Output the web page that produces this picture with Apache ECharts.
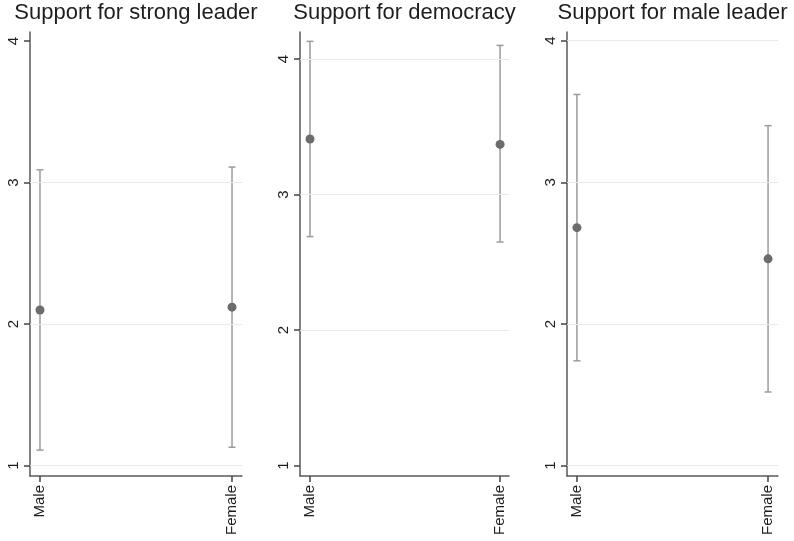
<!DOCTYPE html>
<html>
<head>
<meta charset="utf-8">
<script src="https://cdn.jsdelivr.net/npm/echarts@6/dist/echarts.min.js"></script>
<style>
  html, body { margin: 0; padding: 0; background: #fff; }
  #chart { width: 794px; height: 541px; }
</style>
</head>
<body>
<div id="chart"></div>
<script>
// Group categories shared by every panel
const categories = ['Male', 'Female'];

// Panel titles
const titles = ['Support for strong leader', 'Support for democracy', 'Support for male leader'];

// Mean estimates with 95% confidence bounds, per panel (Male, Female)
const strongLeaderMean  = [2.10, 2.12];
const strongLeaderLow   = [1.11, 1.13];
const strongLeaderHigh  = [3.09, 3.11];

const democracyMean     = [3.41, 3.37];
const democracyLow      = [2.69, 2.65];
const democracyHigh     = [4.13, 4.10];

const maleLeaderMean    = [2.68, 2.46];
const maleLeaderLow     = [1.74, 1.52];
const maleLeaderHigh    = [3.62, 3.40];

// Y tick labels and horizontal grid lines per panel
const yTicks = [1, 2, 3, 4];
const gridLinesStrong    = [1, 2, 3];
const gridLinesDemocracy = [2, 3, 4];
const gridLinesMale      = [1, 2, 3, 4];

const panels = [
  { title: titles[0], mean: strongLeaderMean, low: strongLeaderLow, high: strongLeaderHigh, lines: gridLinesStrong,
    box: { left: 30, top: 32, width: 212, height: 444 }, y: [0.927, 4.064], x: [-0.052, 1.052] },
  { title: titles[1], mean: democracyMean, low: democracyLow, high: democracyHigh, lines: gridLinesDemocracy,
    box: { left: 300, top: 32, width: 209, height: 444 }, y: [0.924, 4.199], x: [-0.0526, 1.047] },
  { title: titles[2], mean: maleLeaderMean, low: maleLeaderLow, high: maleLeaderHigh, lines: gridLinesMale,
    box: { left: 567, top: 32, width: 211, height: 444 }, y: [0.927, 4.061], x: [-0.052, 1.052] }
];

const FONT = '"Liberation Sans", Arial, Helvetica, sans-serif';
const AXIS_COLOR = '#5a5a5a';
const TICK_COLOR = '#444444';
const BAR_COLOR = '#9b9b9b';
const DOT_COLOR = '#6c6c6c';

// Vertical error bar with short caps at both ends
function renderErrorBar(params, api) {
  const x = api.value(0);
  const pLow = api.coord([x, api.value(1)]);
  const pHigh = api.coord([x, api.value(2)]);
  const cap = 3.5;
  const style = { stroke: BAR_COLOR, lineWidth: 1.5 };
  return {
    type: 'group',
    children: [
      { type: 'line', shape: { x1: pLow[0], y1: pLow[1], x2: pHigh[0], y2: pHigh[1] }, style },
      { type: 'line', shape: { x1: pHigh[0] - cap, y1: pHigh[1], x2: pHigh[0] + cap, y2: pHigh[1] }, style },
      { type: 'line', shape: { x1: pLow[0] - cap, y1: pLow[1], x2: pLow[0] + cap, y2: pLow[1] }, style }
    ]
  };
}

const grid = [], xAxis = [], yAxis = [], series = [], graphic = [];

panels.forEach((p, i) => {
  grid.push(Object.assign({ containLabel: false }, p.box));

  graphic.push({
    type: 'text',
    x: p.box.left + p.box.width / 2,
    y: 2,
    style: { text: p.title, font: '22px ' + FONT, fill: '#1e1e1e', textAlign: 'center', textVerticalAlign: 'top' }
  });

  xAxis.push({
    type: 'value', gridIndex: i, min: p.x[0], max: p.x[1],
    axisLine: { show: true, onZero: false, lineStyle: { color: AXIS_COLOR, width: 1.5 } },
    axisTick: { show: true, inside: false, length: 6, customValues: categories.map((c, k) => k), lineStyle: { color: TICK_COLOR, width: 1.5 } },
    axisLabel: {
      show: true, rotate: 90, margin: 9, customValues: categories.map((c, k) => k),
      formatter: v => categories[Math.round(v)] || '',
      fontFamily: FONT, fontSize: 15, color: '#1e1e1e'
    },
    splitLine: { show: false }
  });

  yAxis.push({
    type: 'value', gridIndex: i, min: p.y[0], max: p.y[1],
    axisLine: { show: true, onZero: false, lineStyle: { color: AXIS_COLOR, width: 1.5 } },
    axisTick: { show: true, inside: false, length: 6, customValues: yTicks, lineStyle: { color: TICK_COLOR, width: 1.5 } },
    axisLabel: {
      show: true, rotate: 90, margin: 9, customValues: yTicks,
      formatter: v => String(Math.round(v)),
      fontFamily: FONT, fontSize: 15, color: '#1e1e1e'
    },
    splitLine: { show: false }
  });

  // Light horizontal reference lines
  series.push({
    type: 'scatter', xAxisIndex: i, yAxisIndex: i, data: [], silent: true, z: 1,
    markLine: {
      silent: true, symbol: 'none', animation: false,
      label: { show: false },
      lineStyle: { color: '#e9e9e9', width: 1, type: 'solid' },
      data: p.lines.map(v => ({ yAxis: v }))
    }
  });

  series.push({
    type: 'custom', xAxisIndex: i, yAxisIndex: i, z: 2, silent: true,
    renderItem: renderErrorBar,
    data: categories.map((c, k) => [k, p.low[k], p.high[k]])
  });

  series.push({
    type: 'scatter', xAxisIndex: i, yAxisIndex: i, z: 3, silent: true,
    symbol: 'circle', symbolSize: 9,
    itemStyle: { color: DOT_COLOR, opacity: 1 },
    data: categories.map((c, k) => [k, p.mean[k]])
  });
});

const chart = echarts.init(document.getElementById('chart'), null, { renderer: 'canvas' });
chart.setOption({
  animation: false,
  backgroundColor: '#ffffff',
  grid, xAxis, yAxis, series, graphic
});
</script>
</body>
</html>
